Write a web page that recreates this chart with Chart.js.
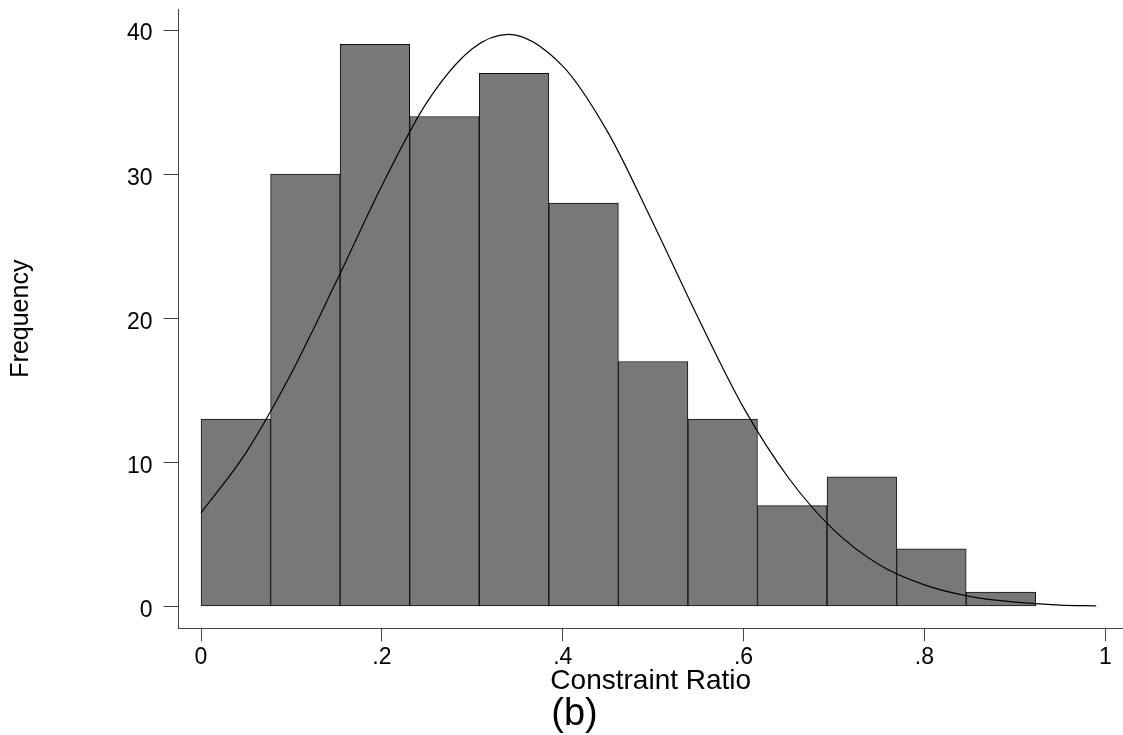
<!DOCTYPE html>
<html><head><meta charset="utf-8">
<script src="https://cdn.jsdelivr.net/npm/chart.js@4.4.1/dist/chart.umd.min.js"></script>
<style>html,body{margin:0;padding:0;background:#fff;} #wrap{width:1123px;height:735px;}</style>
</head><body><div id="wrap"><canvas id="c" width="1123" height="735"></canvas></div>
<script>
const binCenters = [0.0385,0.1154,0.1923,0.2692,0.3462,0.4231,0.5000,0.5769,0.6538,0.7308,0.8077,0.8846];
const frequencies = [13,30,39,34,37,28,17,13,7,9,4,1];
const curveX = [0,0.05,0.10,0.15,0.20,0.25,0.30,0.34,0.40,0.45,0.50,0.55,0.60,0.65,0.70,0.75,0.80,0.85,0.90,0.95,0.99];
const curveY = [6.5,10.7,16.2,22.6,29.2,35.0,38.7,39.7,37.5,32.9,26.6,20.0,13.8,8.9,5.3,2.9,1.5,0.7,0.3,0.1,0.05];
const xTickValues = [0,0.2,0.4,0.6,0.8,1];
const xTickLabels = ['0','.2','.4','.6','.8','1'];
const yTickValues = [0,10,20,30,40];
const yTickLabels = ['0','10','20','30','40'];

const FONT = "'Liberation Sans', Arial, Helvetica, sans-serif";
const AXIS = '#444';
const PAD_LEFT = 26;

new Chart(document.getElementById('c').getContext('2d'), {
  data: {
    datasets: [
      {
        type: 'line',
        data: curveX.map((x, i) => ({x: x, y: curveY[i]})),
        borderColor: '#000', borderWidth: 1.2, pointRadius: 0,
        cubicInterpolationMode: 'monotone', fill: false, order: 0
      },
      {
        type: 'bar',
        data: binCenters.map((x, i) => ({x: x, y: frequencies[i]})),
        backgroundColor: '#787878', borderColor: '#111', borderWidth: 1,
        borderSkipped: false, barPercentage: 1, categoryPercentage: 1, order: 1
      }
    ]
  },
  options: {
    responsive: false, animation: false, devicePixelRatio: 1,
    layout: {padding: {top: 9, right: 0, bottom: 1, left: PAD_LEFT}},
    plugins: {
      legend: {display: false},
      tooltip: {enabled: false},
      title: {
        display: true, text: '(b)', position: 'bottom', color: '#000',
        font: {family: FONT, size: 38, weight: 'normal', lineHeight: 1}, padding: 0
      }
    },
    scales: {
      x: {
        type: 'linear', min: -0.0249, max: 1.0196, offset: false,
        afterBuildTicks: s => { s.ticks = xTickValues.map(v => ({value: v})); },
        afterFit: s => { s.height = 696 - 628.3; s.paddingLeft = 0; s.paddingRight = 0; },
        ticks: {
          callback: (v, i) => xTickLabels[i], color: '#000',
          font: {family: FONT, size: 23}, padding: 3, maxRotation: 0, autoSkip: false
        },
        grid: {offset: false, drawOnChartArea: false, drawTicks: true, tickLength: 13, tickColor: AXIS, tickWidth: 1},
        border: {display: true, color: AXIS, width: 1},
        title: {
          display: true, text: 'Constraint Ratio', color: '#000',
          font: {family: FONT, size: 28, lineHeight: '30px'}, padding: 0
        }
      },
      y: {
        type: 'linear', min: -1.51, max: 41.46,
        afterBuildTicks: s => { s.ticks = yTickValues.map(v => ({value: v})); },
        afterFit: s => { s.width = 178.5 - PAD_LEFT; s.paddingTop = 0; s.paddingBottom = 0; },
        ticks: {
          callback: (v, i) => yTickLabels[i], color: '#000',
          font: {family: FONT, size: 23}, padding: 11, labelOffset: 4, autoSkip: false
        },
        grid: {offset: false, drawOnChartArea: false, drawTicks: true, tickLength: 15, tickColor: AXIS, tickWidth: 1},
        border: {display: true, color: AXIS, width: 1},
        title: {
          display: true, text: 'Frequency', color: '#000',
          font: {family: FONT, size: 25, lineHeight: '30px'}, padding: {top: -20, bottom: 0}
        }
      }
    }
  }
});
</script>
</body></html>
